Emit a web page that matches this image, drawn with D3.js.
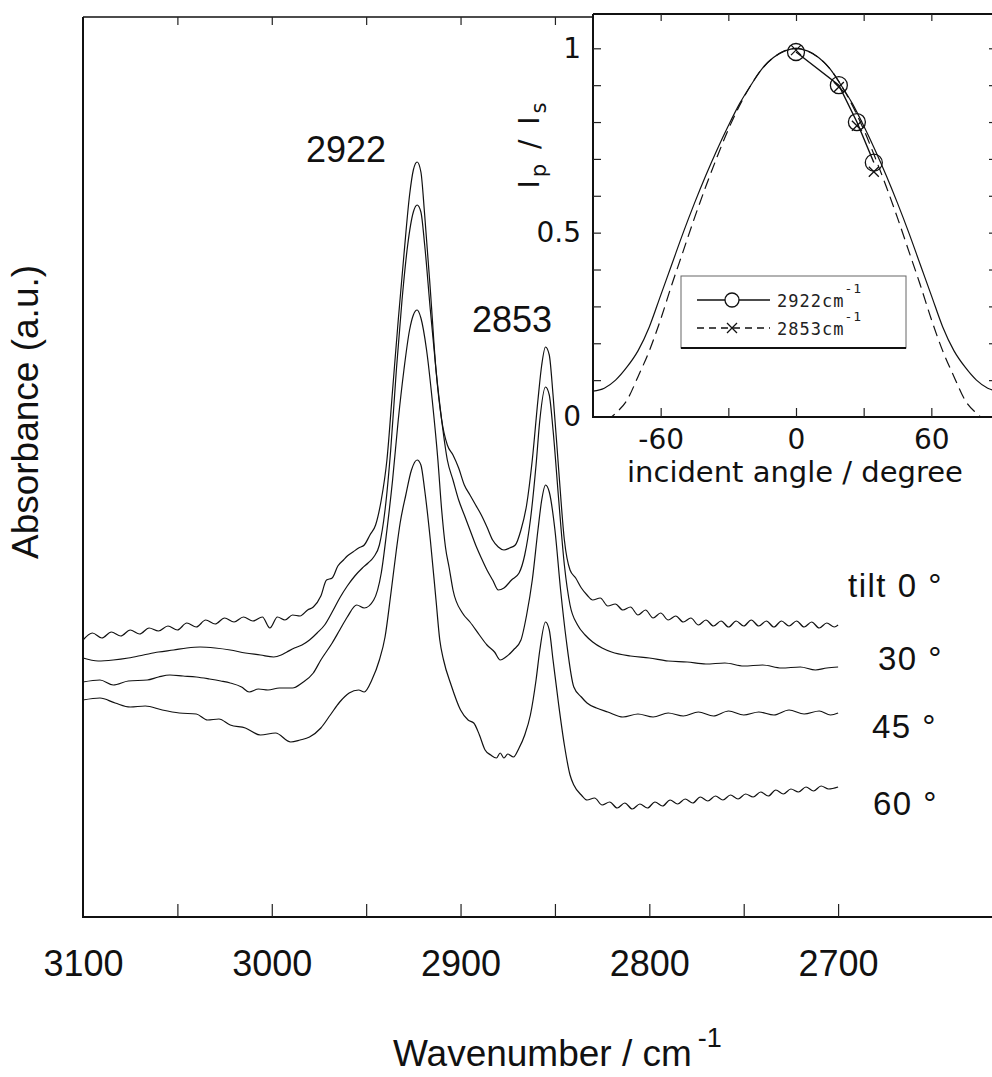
<!DOCTYPE html>
<html lang="en">
<head>
<meta charset="UTF-8">
<title>IR absorbance vs tilt angle</title>
<script src="https://d3js.org/d3.v7.min.js"></script>
<style>
  body { margin: 0; background: #fff; }
  svg { display: block; }
  .trace { fill: none; stroke: #111; stroke-width: 1.2; }
  .frame { stroke: #111; fill: none; }
  .axis path { display: none; }
  .axis line { stroke: #222; stroke-width: 1.2; }
  .main-lbl { font-family: "Liberation Sans", Arial, sans-serif; fill: #111; }
  .inset-lbl { font-family: "DejaVu Sans", sans-serif; fill: #111; }
  .tilt-lbl { font-family: "Liberation Sans", Arial, sans-serif; fill: #111; font-size: 33px; letter-spacing: 1.5px; }
  .leg-txt { font-family: "DejaVu Sans Mono", monospace; fill: #222; }
</style>
</head>
<body>
<div id="chart"></div>
<script>
// spectra: [wavenumber (cm-1), absorbance (a.u., offset per tilt)]
const tilt0 = [
  [3100,2.77],[3095,2.84],[3090,2.79],[3085,2.85],[3080,2.81],[3075,2.87],[3070,2.83],[3065,2.89],
  [3060,2.86],[3055,2.91],[3050,2.87],[3045,2.94],[3040,2.90],[3035,2.97],[3030,2.93],[3025,2.99],
  [3020,2.95],[3015,3.00],[3010,2.96],[3005,3.00],[3001,2.89],[2997,3.00],[2993,2.97],[2989,3.02],
  [2985,3.01],[2981,3.07],[2978,3.10],[2974,3.21],[2971,3.37],[2968,3.39],[2965,3.51],[2962,3.57],
  [2960,3.61],[2957,3.65],[2954,3.69],[2951,3.72],[2948,3.82],[2945,3.92],[2942,4.17],[2939,4.57],
  [2936,5.27],[2933,5.97],[2930,6.62],[2927,7.22],[2925,7.47],[2923,7.55],[2921,7.45],[2919,7.02],
  [2916,6.27],[2913,5.47],[2910,4.97],[2907,4.72],[2904,4.62],[2901,4.49],[2898,4.32],[2895,4.22],
  [2892,4.12],[2889,4.02],[2886,3.90],[2883,3.77],[2880,3.70],[2877,3.67],[2874,3.69],[2871,3.72],
  [2868,3.87],[2865,4.12],[2862,4.57],[2859,5.17],[2857,5.52],[2855,5.70],[2853,5.62],[2851,5.22],
  [2848,4.47],[2845,3.77],[2842,3.47],[2839,3.39],[2836,3.29],[2833,3.22],[2830,3.17],[2826,3.19],
  [2822,3.11],[2818,3.13],[2814,3.07],[2810,3.10],[2806,3.02],[2802,3.07],[2798,2.99],[2794,3.04],
  [2790,2.97],[2786,3.01],[2782,2.95],[2778,2.99],[2774,2.92],[2770,2.97],[2766,2.91],[2762,2.96],
  [2758,2.90],[2754,2.96],[2750,2.91],[2746,2.97],[2742,2.91],[2738,2.96],[2734,2.90],[2730,2.96],
  [2726,2.91],[2722,2.96],[2718,2.90],[2714,2.95],[2710,2.89],[2706,2.94],[2702,2.90],[2700,2.92]
];
const tilt30 = [
  [3100,2.59],[3092,2.56],[3084,2.57],[3076,2.59],[3068,2.62],[3060,2.65],[3052,2.67],[3045,2.69],
  [3038,2.70],[3030,2.69],[3022,2.67],[3014,2.64],[3006,2.62],[2999,2.60],[2995,2.62],[2992,2.65],
  [2988,2.69],[2984,2.72],[2980,2.77],[2976,2.84],[2972,2.92],[2968,3.05],[2964,3.19],[2960,3.31],
  [2956,3.41],[2952,3.49],[2949,3.54],[2946,3.60],[2943,3.72],[2940,4.07],[2937,4.67],[2934,5.47],
  [2931,6.17],[2928,6.72],[2925,7.05],[2923,7.12],[2921,7.05],[2919,6.72],[2916,6.07],[2913,5.47],
  [2910,4.97],[2907,4.57],[2904,4.37],[2901,4.17],[2898,4.02],[2895,3.87],[2892,3.72],[2889,3.59],
  [2886,3.47],[2883,3.37],[2880,3.27],[2877,3.29],[2873,3.37],[2869,3.44],[2866,3.62],[2863,3.97],
  [2860,4.52],[2858,4.97],[2855,5.30],[2853,5.22],[2851,4.87],[2848,4.17],[2845,3.52],[2842,3.12],
  [2838,2.92],[2834,2.82],[2830,2.75],[2825,2.69],[2820,2.65],[2810,2.61],[2800,2.59],[2790,2.56],
  [2780,2.55],[2770,2.53],[2760,2.54],[2750,2.51],[2740,2.52],[2730,2.49],[2720,2.50],[2712,2.47],
  [2706,2.49],[2700,2.50]
];
const tilt45 = [
  [3100,2.35],[3091,2.37],[3084,2.32],[3076,2.36],[3066,2.37],[3060,2.40],[3054,2.42],[3047,2.41],
  [3040,2.40],[3033,2.38],[3027,2.36],[3022,2.34],[3016,2.30],[3012,2.25],[3007,2.28],[3002,2.27],
  [2996,2.29],[2989,2.29],[2984,2.34],[2978,2.44],[2974,2.57],[2968,2.74],[2964,2.87],[2960,3.00],
  [2955,3.12],[2951,3.09],[2946,3.17],[2942,3.44],[2939,3.87],[2936,4.37],[2933,4.97],[2930,5.47],
  [2927,5.87],[2925,6.02],[2923,6.07],[2921,5.99],[2918,5.67],[2915,5.17],[2912,4.57],[2910,4.07],
  [2908,3.70],[2906,3.49],[2904,3.27],[2899,3.04],[2895,2.95],[2890,2.82],[2886,2.72],[2882,2.65],
  [2879,2.57],[2876,2.60],[2872,2.67],[2868,2.77],[2865,3.02],[2862,3.37],[2859,3.87],[2857,4.17],
  [2855,4.32],[2853,4.25],[2850,3.87],[2847,3.27],[2844,2.77],[2840,2.30],[2836,2.20],[2833,2.14],
  [2828,2.09],[2822,2.05],[2814,2.00],[2806,2.03],[2798,2.00],[2790,2.04],[2782,2.01],[2774,2.05],
  [2766,2.01],[2758,2.06],[2750,2.02],[2742,2.05],[2734,2.02],[2726,2.07],[2718,2.03],[2710,2.06],
  [2704,2.02],[2700,2.04]
];
const tilt60 = [
  [3100,2.17],[3091,2.19],[3083,2.14],[3075,2.10],[3067,2.11],[3058,2.07],[3049,2.04],[3040,2.03],
  [3034,1.97],[3028,1.98],[3022,1.92],[3014,1.89],[3006,1.82],[2998,1.84],[2990,1.75],[2985,1.77],
  [2980,1.80],[2974,1.89],[2969,2.02],[2964,2.15],[2959,2.24],[2954,2.27],[2951,2.25],[2947,2.37],
  [2943,2.57],[2940,2.80],[2937,3.22],[2934,3.67],[2932,3.94],[2929,4.22],[2926,4.47],[2923,4.57],
  [2921,4.52],[2919,4.27],[2916,3.77],[2913,3.17],[2911,2.77],[2909,2.57],[2905,2.32],[2900,2.07],
  [2896,1.97],[2893,1.94],[2890,1.82],[2887,1.67],[2884,1.62],[2881,1.59],[2879,1.64],[2877,1.59],
  [2875,1.63],[2872,1.60],[2869,1.69],[2866,1.82],[2863,2.02],[2860,2.37],[2858,2.67],[2855,2.95],
  [2853,2.87],[2851,2.57],[2848,2.12],[2845,1.72],[2842,1.42],[2840,1.32],[2836,1.22],[2833,1.17],
  [2829,1.19],[2825,1.12],[2821,1.15],[2817,1.09],[2813,1.14],[2809,1.08],[2805,1.13],[2801,1.09],
  [2797,1.15],[2793,1.11],[2789,1.17],[2785,1.13],[2781,1.18],[2777,1.14],[2773,1.20],[2769,1.16],
  [2765,1.21],[2761,1.17],[2757,1.22],[2753,1.18],[2749,1.23],[2745,1.20],[2741,1.25],[2737,1.21],
  [2733,1.27],[2729,1.23],[2725,1.28],[2721,1.25],[2717,1.30],[2713,1.26],[2709,1.31],[2705,1.28],
  [2700,1.30]
];
const traces = [tilt0, tilt30, tilt45, tilt60];
const tiltNames = ["tilt 0", "30", "45", "60"];
const tickLabels = [3100, 3000, 2900, 2800, 2700];
const peakLabels = ["2922", "2853"];

// inset: Ip/Is vs incident angle
const angles = [-90,-85,-80,-75,-70,-65,-60,-55,-50,-45,-40,-35,-30,-25,-20,-15,-10,-5,0,
                5,10,15,20,25,30,35,40,45,50,55,60,65,70,75,80,85,90];
const fit2922 = [0.070,0.078,0.100,0.135,0.180,0.245,0.330,0.415,0.500,0.580,0.655,0.725,0.790,0.850,0.900,0.945,0.975,0.993,1.000,
                 0.993,0.975,0.945,0.900,0.850,0.790,0.725,0.655,0.580,0.500,0.415,0.330,0.245,0.180,0.135,0.100,0.078,0.070];
const fit2853 = [-0.040,-0.015,0.010,0.045,0.110,0.180,0.265,0.360,0.450,0.540,0.625,0.705,0.780,0.845,0.900,0.945,0.975,0.993,1.000,
                 0.993,0.975,0.945,0.900,0.845,0.780,0.705,0.625,0.540,0.450,0.360,0.265,0.180,0.110,0.045,0.010,-0.015,-0.040];
const measAngles = [0, 19, 27, 34.5];
const meas2922 = [0.990, 0.900, 0.800, 0.690];
const meas2853 = [0.995, 0.895, 0.790, 0.665];

const W = 992, H = 1077;
const svg = d3.select("#chart").append("svg").attr("width", W).attr("height", H);

// ---------- main plot ----------
const x = d3.scaleLinear().domain([3100, 2619]).range([83, 991]);
const y = d3.scaleLinear().domain([0, 9]).range([917, 17]);

const line = d3.line().x(d => x(d[0])).y(d => y(d[1])).curve(d3.curveMonotoneX);

svg.selectAll(".trace").data(traces).join("path")
  .attr("class", "trace").attr("d", line);

// frame
svg.append("line").attr("class", "frame").attr("x1", 83).attr("x2", 83).attr("y1", y(9)).attr("y2", y(0)).attr("stroke-width", 2);
svg.append("line").attr("class", "frame").attr("x1", 82).attr("x2", W).attr("y1", y(0)).attr("y2", y(0)).attr("stroke-width", 2);
svg.append("line").attr("class", "frame").attr("x1", 83).attr("x2", 593).attr("y1", y(9)).attr("y2", y(9)).attr("stroke-width", 1.5);

// inward ticks
svg.append("g").attr("class", "axis").attr("transform", `translate(0,${y(0)})`)
  .call(d3.axisBottom(x).tickValues(d3.range(3050, 2650, -50)).tickSize(-13).tickFormat(""));
svg.append("g").attr("class", "axis").attr("transform", `translate(0,${y(9)})`)
  .call(d3.axisTop(x).tickValues(d3.range(3050, 2820, -50)).tickSize(-8).tickFormat(""));

// tick labels
svg.append("g").attr("class", "axis").attr("transform", `translate(0,${y(0)})`)
  .call(d3.axisBottom(x).tickValues(tickLabels).tickSize(0).tickPadding(33).tickFormat(d => String(d)))
  .call(g => g.selectAll("text").attr("class", "main-lbl").attr("font-size", 36).attr("fill", "#111"));

// peak labels
const peakPos = [[346, 162], [512, 332]];
svg.selectAll(".peak").data(peakLabels).join("text")
  .attr("class", "main-lbl")
  .attr("x", (d, i) => peakPos[i][0])
  .attr("y", (d, i) => peakPos[i][1])
  .attr("font-size", 36)
  .attr("text-anchor", "middle")
  .text(d => d);

// tilt labels at the right end of each trace
const tiltY = [597, 670, 738, 815];
const tiltX = [848, 878, 872, 873];
svg.selectAll(".tilt").data(tiltNames).join("text")
  .attr("class", "tilt-lbl")
  .attr("x", (d, i) => tiltX[i])
  .attr("y", (d, i) => tiltY[i])
  .text(d => d + " °");

// axis titles
svg.append("text").attr("class", "main-lbl").attr("font-size", 37)
  .attr("transform", "translate(38,412) rotate(-90)").attr("text-anchor", "middle")
  .text("Absorbance (a.u.)");
const xt = svg.append("text").attr("class", "main-lbl").attr("font-size", 37)
  .attr("x", 393).attr("y", 1066);
xt.append("tspan").text("Wavenumber / cm");
xt.append("tspan").attr("font-size", 27).attr("dx", 6).attr("dy", -19).text("-1");

// ---------- inset ----------
const ix = d3.scaleLinear().domain([-90, 90]).range([593, 999]);
const iy = d3.scaleLinear().domain([0, 1]).range([417, 48.3]);
const iTop = 14;

svg.append("rect").attr("x", 593).attr("y", iTop).attr("width", 406).attr("height", 417 - iTop).attr("fill", "#fff");
svg.append("defs").append("clipPath").attr("id", "inclip")
  .append("rect").attr("x", 593).attr("y", iTop).attr("width", 406).attr("height", 417 - iTop);

const ig = svg.append("g").attr("clip-path", "url(#inclip)");
const iline = d3.line().x(d => ix(d[0])).y(d => iy(d[1])).curve(d3.curveMonotoneX);
ig.append("path").attr("d", iline(angles.map((a, i) => [a, fit2922[i]])))
  .attr("fill", "none").attr("stroke", "#111").attr("stroke-width", 1.2);
ig.append("path").attr("d", iline(angles.map((a, i) => [a, fit2853[i]])))
  .attr("fill", "none").attr("stroke", "#111").attr("stroke-width", 1.2).attr("stroke-dasharray", "11,6");

// measured points
const p2922 = measAngles.map((a, i) => [a, meas2922[i]]);
const p2853 = measAngles.map((a, i) => [a, meas2853[i]]);
ig.append("path").attr("d", d3.line().x(d => ix(d[0])).y(d => iy(d[1]))(p2922))
  .attr("fill", "none").attr("stroke", "#111").attr("stroke-width", 1.4);
ig.selectAll(".pc").data(p2922).join("circle")
  .attr("cx", d => ix(d[0])).attr("cy", d => iy(d[1])).attr("r", 8.5)
  .attr("fill", "none").attr("stroke", "#111").attr("stroke-width", 1.3);
const cross = (g, cx, cy, s) => {
  g.append("path").attr("d", `M${cx - s},${cy - s}L${cx + s},${cy + s}M${cx - s},${cy + s}L${cx + s},${cy - s}`)
    .attr("stroke", "#111").attr("stroke-width", 1.3);
};
p2853.forEach(d => cross(ig, ix(d[0]), iy(d[1]), 5));

// inset frame
svg.append("line").attr("class", "frame").attr("x1", 593).attr("x2", 593).attr("y1", iTop).attr("y2", 418).attr("stroke-width", 2);
svg.append("line").attr("class", "frame").attr("x1", 593).attr("x2", W).attr("y1", 417).attr("y2", 417).attr("stroke-width", 2);
svg.append("line").attr("class", "frame").attr("x1", 593).attr("x2", W).attr("y1", iTop).attr("y2", iTop).attr("stroke-width", 2);

// inset ticks (inward)
svg.append("g").attr("class", "axis").attr("transform", "translate(593,0)")
  .call(d3.axisLeft(iy).tickValues(d3.range(0.1, 1.01, 0.1)).tickSize(-8).tickFormat(""));
svg.append("g").attr("class", "axis").attr("transform", "translate(999,0)")
  .call(d3.axisRight(iy).tickValues(d3.range(0.1, 1.01, 0.1)).tickSize(-10).tickFormat(""));
svg.append("g").attr("class", "axis").attr("transform", "translate(0,417)")
  .call(d3.axisBottom(ix).tickValues([-60, -30, 0, 30, 60]).tickSize(-9).tickFormat(""));
svg.append("g").attr("class", "axis").attr("transform", `translate(0,${iTop})`)
  .call(d3.axisTop(ix).tickValues([-60, -30, 0, 30, 60]).tickSize(-7).tickFormat(""));

// inset tick labels
svg.append("g").attr("class", "axis").attr("transform", "translate(0,417)")
  .call(d3.axisBottom(ix).tickValues([-60, 0, 60]).tickSize(0).tickPadding(12).tickFormat(d => String(d)))
  .call(g => g.selectAll("text").attr("class", "inset-lbl").attr("font-size", 28).attr("fill", "#111"));
svg.append("g").attr("class", "axis").attr("transform", "translate(593,0)")
  .call(d3.axisLeft(iy).tickValues([0, 0.5, 1]).tickSize(0).tickPadding(12).tickFormat(d => String(d)))
  .call(g => g.selectAll("text").attr("class", "inset-lbl").attr("font-size", 28).attr("fill", "#111"));

svg.append("text").attr("class", "inset-lbl").attr("font-size", 29)
  .attr("x", 795).attr("y", 482).attr("text-anchor", "middle")
  .text("incident angle / degree");

const iyl = svg.append("text").attr("class", "inset-lbl").attr("font-size", 28)
  .attr("transform", "translate(539,144) rotate(-90)").attr("text-anchor", "middle")
  .attr("letter-spacing", 3);
iyl.append("tspan").text("I");
iyl.append("tspan").attr("font-size", 21).attr("dy", 7).text("p");
iyl.append("tspan").attr("dy", -7).text("  /  I");
iyl.append("tspan").attr("font-size", 21).attr("dy", 7).text("s");

// legend
const leg = svg.append("g");
leg.append("rect").attr("x", 681).attr("y", 276).attr("width", 225).attr("height", 72)
  .attr("fill", "#fff").attr("stroke", "#666").attr("stroke-width", 1);
leg.append("line").attr("x1", 681).attr("x2", 906).attr("y1", 348).attr("y2", 348).attr("stroke", "#111").attr("stroke-width", 2);
const legRows = [{name: "2922", y: 300, dash: null}, {name: "2853", y: 328, dash: "7,5"}];
legRows.forEach((r, i) => {
  leg.append("line").attr("x1", 697).attr("x2", 770).attr("y1", r.y).attr("y2", r.y)
    .attr("stroke", "#111").attr("stroke-width", 1.3).attr("stroke-dasharray", r.dash);
  if (i === 0) {
    leg.append("circle").attr("cx", 732).attr("cy", r.y).attr("r", 7).attr("fill", "#fff").attr("stroke", "#111").attr("stroke-width", 1.3);
  } else {
    cross(leg, 732, r.y, 5);
  }
  const t = leg.append("text").attr("class", "leg-txt").attr("font-size", 17).attr("letter-spacing", 1)
    .attr("x", 777).attr("y", r.y + 7);
  t.append("tspan").text(r.name + "cm");
  t.append("tspan").attr("font-size", 13).attr("dy", -14).text("-1");
});
</script>
</body>
</html>
